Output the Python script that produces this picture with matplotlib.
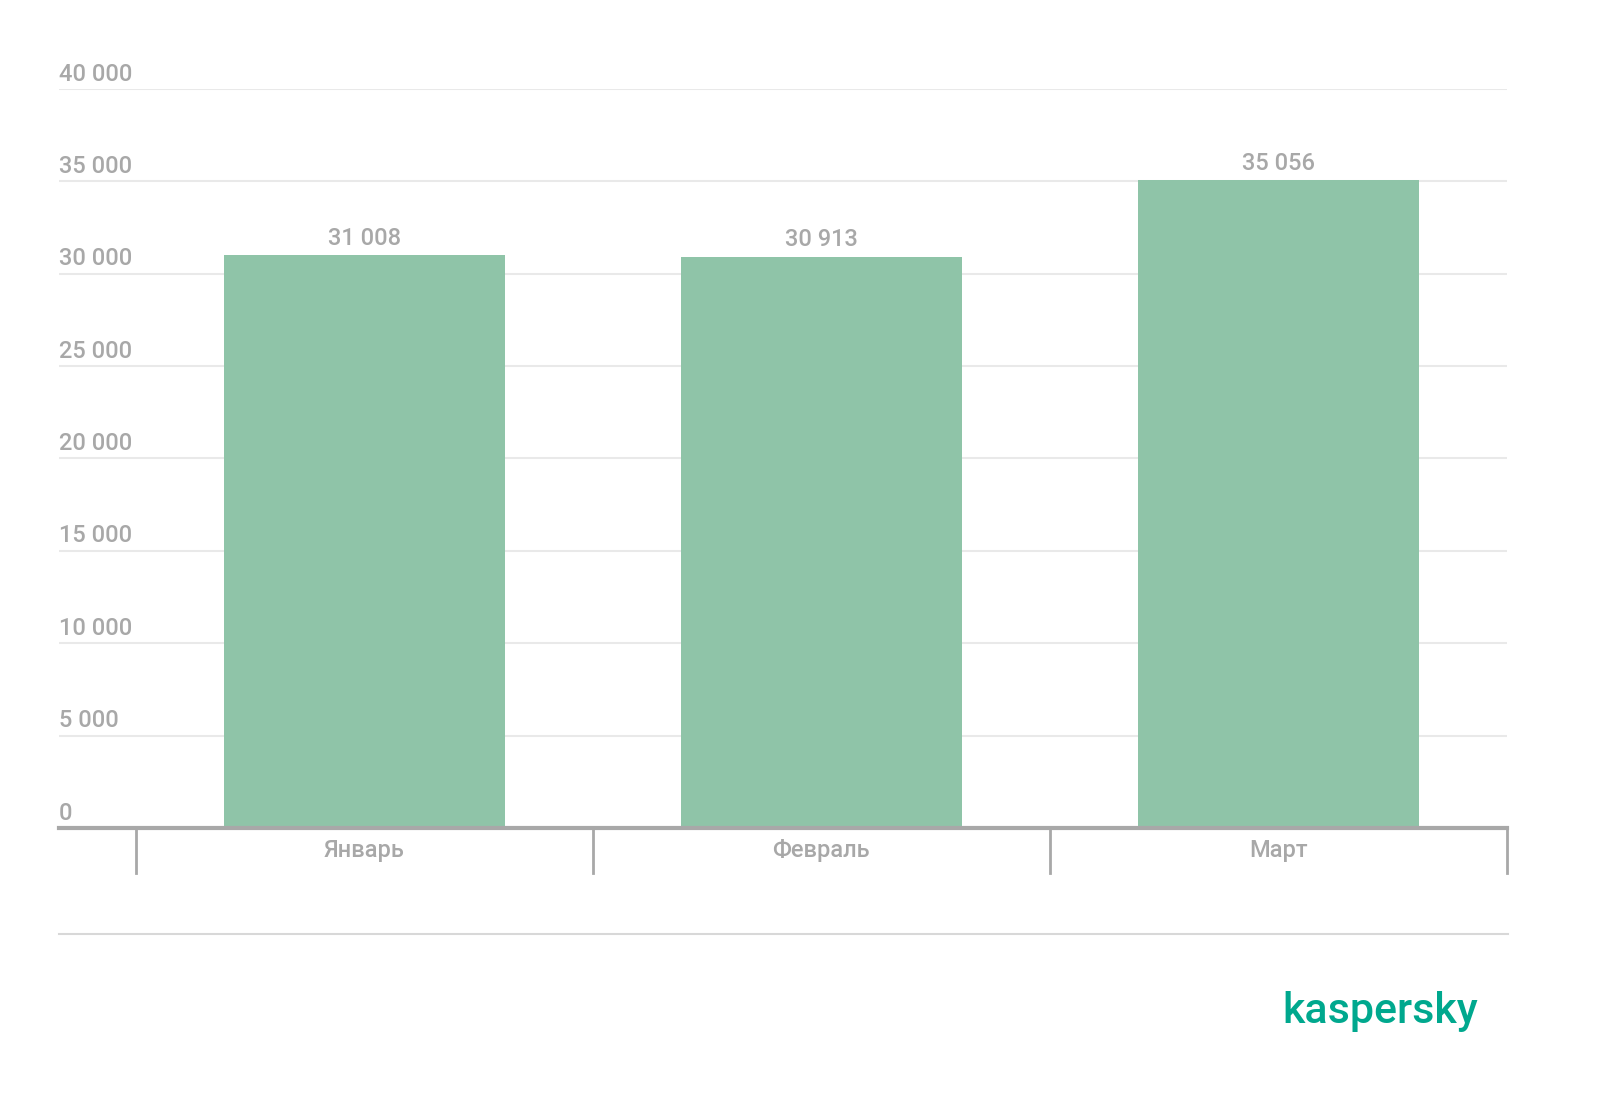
import matplotlib.pyplot as plt
from matplotlib.lines import Line2D

months = ["Январь", "Февраль", "Март"]
values = [31008, 30913, 35056]
yticks = [0, 5000, 10000, 15000, 20000, 25000, 30000, 35000, 40000]

plt.rcParams['font.family'] = ['Roboto', 'DejaVu Sans']

grey = "#a8a8a8"
bar_color = "#8fc4a8"

fig = plt.figure(figsize=(16, 11.16), dpi=100)
ax = fig.add_axes([59 / 1600, 1 - 828 / 1116, 1448 / 1600, (828 - 89) / 1116])

x = list(range(len(months)))
ax.bar(x, values, width=0.615, color=bar_color, zorder=2)

ax.set_xlim(-0.668, 2.5)
ax.set_ylim(0, 40000)

# gridlines and y labels sitting above them
for t in yticks:
    if t > 0:
        ax.axhline(t, color="#e9e9e9", lw=1.5, zorder=1)
    ax.annotate(f"{t:,}".replace(",", " "), xy=(0, t), xycoords=("axes fraction", "data"),
                xytext=(0, 2.5), textcoords="offset points", ha="left", va="bottom",
                fontsize=17, color=grey, fontweight="medium")

# value labels
for xi, v in zip(x, values):
    ax.annotate(f"{v:,}".replace(",", " "), xy=(xi, v), xytext=(0, 4),
                textcoords="offset points", ha="center", va="bottom",
                fontsize=17, color=grey, fontweight="medium")

# baseline
ax.axhline(0, color=grey, lw=3, zorder=3, clip_on=False)

for s in ax.spines.values():
    s.set_visible(False)
ax.set_yticks([])
ax.set_xticks(x)
ax.set_xticklabels(months, fontsize=17, color=grey, fontweight="medium")
ax.tick_params(axis="x", length=0, pad=8)

# category separators below the axis
for b in [-0.5, 0.5, 1.5, 2.5]:
    ax.plot([b, b], [0, -0.061], color=grey, lw=2, clip_on=False,
            transform=ax.get_xaxis_transform())

# bottom divider line
fig.add_artist(Line2D([59 / 1600, 1508 / 1600], [1 - 934 / 1116] * 2,
                      color="#d8d8d8", lw=1.5))

fig.text(1478 / 1600, 1 - 1012 / 1116, "kaspersky", ha="right", va="center",
         fontsize=31, color="#00a88e", fontweight="medium")

fig.savefig("out.png", dpi=100, facecolor="white")
